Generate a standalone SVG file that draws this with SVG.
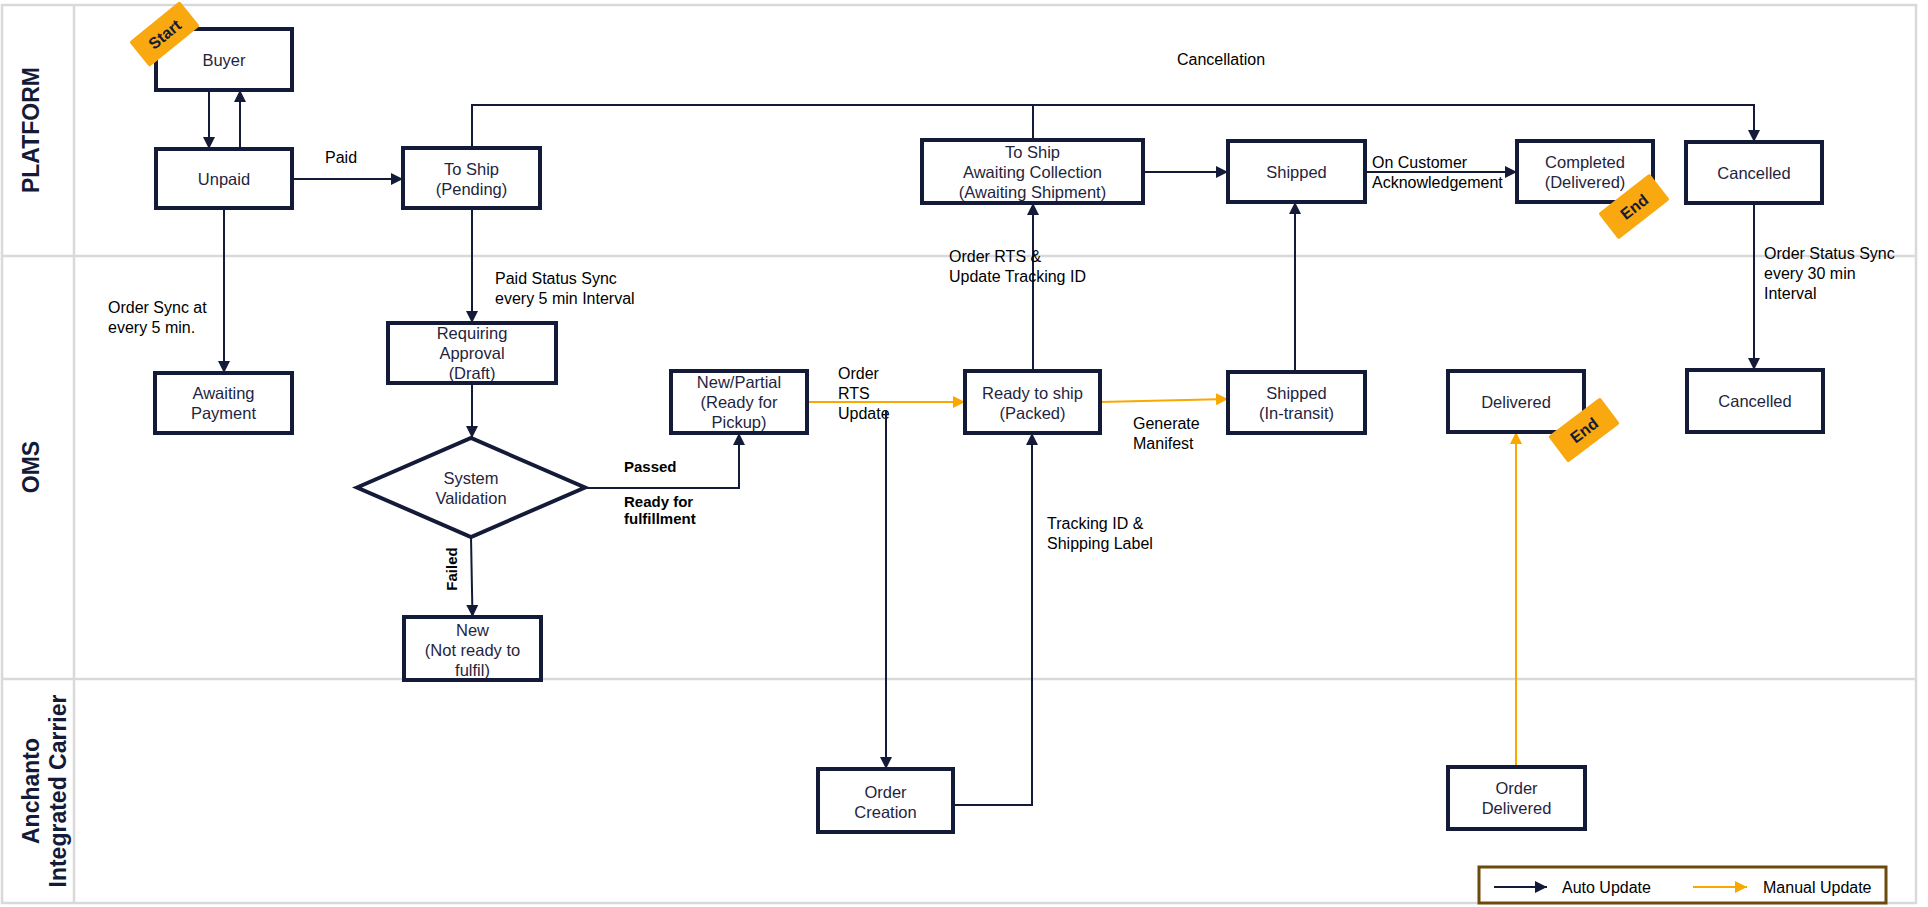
<svg xmlns="http://www.w3.org/2000/svg" width="1928" height="907" viewBox="0 0 1928 907">
<style>
.lane{fill:none;stroke:#d9d9d9;stroke-width:2.5}
.box{fill:#fff;stroke:#141b38;stroke-width:4}
.nt{font-family:"Liberation Sans",Arial,sans-serif;font-size:16.5px;fill:#1f2540;text-anchor:middle}
.lb{font-family:"Liberation Sans",Arial,sans-serif;font-size:16px;fill:#000}
.bl{font-family:"Liberation Sans",Arial,sans-serif;font-size:15px;font-weight:bold;fill:#000}
.ll{font-family:"Liberation Sans",Arial,sans-serif;font-size:23px;font-weight:bold;fill:#141b38;text-anchor:middle}
.c{fill:none;stroke:#141b38;stroke-width:2}
.o{fill:none;stroke:#f9a800;stroke-width:2}
.tag{fill:#f9a90f}
.tt{font-family:"Liberation Sans",Arial,sans-serif;font-size:16px;font-weight:bold;fill:#141b38;text-anchor:middle}
</style>
<defs>
<marker id="an" markerUnits="userSpaceOnUse" markerWidth="12" markerHeight="12" refX="12" refY="6" orient="auto"><path d="M0,0 L12,6 L0,12 z" fill="#141b38"/></marker>
<marker id="ao" markerUnits="userSpaceOnUse" markerWidth="12" markerHeight="12" refX="12" refY="6" orient="auto"><path d="M0,0 L12,6 L0,12 z" fill="#f9a800"/></marker>
</defs>
<rect width="1928" height="907" fill="#fff"/>
<g id="lanes">
<rect class="lane" x="2" y="5" width="1914" height="898"/>
<line class="lane" x1="74" y1="5" x2="74" y2="903"/>
<line class="lane" x1="2" y1="256" x2="1916" y2="256"/>
<line class="lane" x1="2" y1="679" x2="1916" y2="679"/>
<text class="ll" transform="translate(39,130) rotate(-90)">PLATFORM</text>
<text class="ll" transform="translate(39,467) rotate(-90)">OMS</text>
<text class="ll" transform="translate(39,791) rotate(-90)">Anchanto</text>
<text class="ll" transform="translate(66,791) rotate(-90)">Integrated Carrier</text>
</g>
<g id="connectors">
<line class="c" x1="209" y1="90" x2="209" y2="149" marker-end="url(#an)"/>
<line class="c" x1="240" y1="149" x2="240" y2="90" marker-end="url(#an)"/>
<line class="c" x1="292" y1="179" x2="403" y2="179" marker-end="url(#an)"/>
<text class="lb" x="325" y="163">Paid</text>
<line class="c" x1="224" y1="208" x2="224" y2="373" marker-end="url(#an)"/>
<text class="lb" x="108" y="313">Order Sync at</text>
<text class="lb" x="108" y="333">every 5 min.</text>
<line class="c" x1="472" y1="208" x2="472" y2="323" marker-end="url(#an)"/>
<text class="lb" x="495" y="284">Paid Status Sync</text>
<text class="lb" x="495" y="304">every 5 min Interval</text>
<polyline class="c" points="472,148 472,105 1754,105 1754,142" marker-end="url(#an)"/>
<line class="c" x1="1033" y1="140" x2="1033" y2="105"/>
<text class="lb" x="1221" y="65" text-anchor="middle">Cancellation</text>
<line class="c" x1="472" y1="383" x2="472" y2="438" marker-end="url(#an)"/>
<polyline class="c" points="585,488 739,488 739,433" marker-end="url(#an)"/>
<text class="bl" x="624" y="472">Passed</text>
<text class="bl" x="624" y="507">Ready for</text>
<text class="bl" x="624" y="524">fulfillment</text>
<line class="c" x1="471" y1="537" x2="472.5" y2="617" marker-end="url(#an)"/>
<text class="bl" text-anchor="middle" transform="translate(457,569) rotate(-90)">Failed</text>
<line class="o" x1="807" y1="402" x2="965" y2="402" marker-end="url(#ao)"/>
<text class="lb" x="838" y="379">Order</text>
<text class="lb" x="838" y="399">RTS</text>
<text class="lb" x="838" y="419">Update</text>
<line class="c" x1="886" y1="410" x2="886" y2="769" marker-end="url(#an)"/>
<polyline class="c" points="953,805 1032,805 1032,433" marker-end="url(#an)"/>
<text class="lb" x="1047" y="529">Tracking ID &amp;</text>
<text class="lb" x="1047" y="549">Shipping Label</text>
<line class="c" x1="1033" y1="371" x2="1033" y2="203" marker-end="url(#an)"/>
<text class="lb" x="949" y="262">Order RTS &amp;</text>
<text class="lb" x="949" y="282">Update Tracking ID</text>
<line class="c" x1="1143" y1="172" x2="1228" y2="172" marker-end="url(#an)"/>
<line class="o" x1="1100" y1="402" x2="1228" y2="399" marker-end="url(#ao)"/>
<text class="lb" x="1133" y="429">Generate</text>
<text class="lb" x="1133" y="449">Manifest</text>
<line class="c" x1="1295" y1="372" x2="1295" y2="202" marker-end="url(#an)"/>
<line class="c" x1="1365" y1="172" x2="1517" y2="172" marker-end="url(#an)"/>
<text class="lb" x="1372" y="168">On Customer</text>
<text class="lb" x="1372" y="188">Acknowledgement</text>
<line class="c" x1="1754" y1="203" x2="1754" y2="370" marker-end="url(#an)"/>
<text class="lb" x="1764" y="259">Order Status Sync</text>
<text class="lb" x="1764" y="279">every 30 min</text>
<text class="lb" x="1764" y="299">Interval</text>
<line class="o" x1="1516" y1="767" x2="1516" y2="432" marker-end="url(#ao)"/>
</g>
<g id="buyer"><rect class="box" x="156" y="29" width="136" height="61"/><text class="nt" x="224" y="66">Buyer</text></g>
<g id="unpaid"><rect class="box" x="156" y="149" width="136" height="59"/><text class="nt" x="224" y="185">Unpaid</text></g>
<g id="toship"><rect class="box" x="403" y="148" width="137" height="60"/><text class="nt" x="471.5" y="175">To Ship</text><text class="nt" x="471.5" y="195">(Pending)</text></g>
<g id="awaiting-collection"><rect class="box" x="922" y="140" width="221" height="63"/><text class="nt" x="1032.5" y="158">To Ship</text><text class="nt" x="1032.5" y="178">Awaiting Collection</text><text class="nt" x="1032.5" y="198">(Awaiting Shipment)</text></g>
<g id="shipped"><rect class="box" x="1228" y="141" width="137" height="61"/><text class="nt" x="1296.5" y="178">Shipped</text></g>
<g id="completed"><rect class="box" x="1517" y="141" width="136" height="61"/><text class="nt" x="1585" y="168">Completed</text><text class="nt" x="1585" y="188">(Delivered)</text></g>
<g id="cancelled"><rect class="box" x="1686" y="142" width="136" height="61"/><text class="nt" x="1754" y="179">Cancelled</text></g>
<g id="awaiting-payment"><rect class="box" x="155" y="373" width="137" height="60"/><text class="nt" x="223.5" y="399">Awaiting</text><text class="nt" x="223.5" y="419">Payment</text></g>
<g id="requiring-approval"><rect class="box" x="388" y="323" width="168" height="60"/><text class="nt" x="472" y="339">Requiring</text><text class="nt" x="472" y="359">Approval</text><text class="nt" x="472" y="379">(Draft)</text></g>
<g id="system-validation"><polygon points="357,487.5 471,438 585,487.5 471,537" fill="#fff" stroke="#141b38" stroke-width="4"/><text class="nt" x="471" y="484">System</text><text class="nt" x="471" y="504">Validation</text></g>
<g id="new"><rect class="box" x="404" y="617" width="137" height="63"/><text class="nt" x="472.5" y="636">New</text><text class="nt" x="472.5" y="656">(Not ready to</text><text class="nt" x="472.5" y="676">fulfil)</text></g>
<g id="new-partial"><rect class="box" x="671" y="371" width="136" height="62"/><text class="nt" x="739" y="388">New/Partial</text><text class="nt" x="739" y="408">(Ready for</text><text class="nt" x="739" y="428">Pickup)</text></g>
<g id="ready-to-ship"><rect class="box" x="965" y="371" width="135" height="62"/><text class="nt" x="1032.5" y="399">Ready to ship</text><text class="nt" x="1032.5" y="419">(Packed)</text></g>
<g id="shipped-in-transit"><rect class="box" x="1228" y="372" width="137" height="61"/><text class="nt" x="1296.5" y="399">Shipped</text><text class="nt" x="1296.5" y="419">(In-transit)</text></g>
<g id="delivered"><rect class="box" x="1448" y="371" width="136" height="61"/><text class="nt" x="1516" y="408">Delivered</text></g>
<g id="cancelled-oms"><rect class="box" x="1687" y="370" width="136" height="62"/><text class="nt" x="1755" y="407">Cancelled</text></g>
<g id="order-creation"><rect class="box" x="818" y="769" width="135" height="63"/><text class="nt" x="885.5" y="798">Order</text><text class="nt" x="885.5" y="818">Creation</text></g>
<g id="order-delivered"><rect class="box" x="1448" y="767" width="137" height="62"/><text class="nt" x="1516.5" y="794">Order</text><text class="nt" x="1516.5" y="814">Delivered</text></g>
<g id="start-tag" transform="translate(164.5,34) rotate(-39)"><rect class="tag" x="-32.5" y="-16" width="65" height="32" rx="2"/><text class="tt" x="0" y="6">Start</text></g>
<g id="end-tag-1" transform="translate(1634,206.5) rotate(-38)"><rect class="tag" x="-32.5" y="-16.5" width="65" height="33" rx="2"/><text class="tt" x="0" y="6">End</text></g>
<g id="end-tag-2" transform="translate(1584,430) rotate(-37)"><rect class="tag" x="-32.5" y="-16.5" width="65" height="33" rx="2"/><text class="tt" x="0" y="6">End</text></g>
<g id="legend">
<rect x="1479" y="867" width="407" height="36" fill="#fff" stroke="#6b4a0c" stroke-width="3"/>
<line class="c" x1="1494" y1="887" x2="1547" y2="887" marker-end="url(#an)"/>
<text class="lb" x="1562" y="893">Auto Update</text>
<line class="o" x1="1693" y1="887" x2="1747" y2="887" marker-end="url(#ao)"/>
<text class="lb" x="1763" y="893">Manual Update</text>
</g>
</svg>
